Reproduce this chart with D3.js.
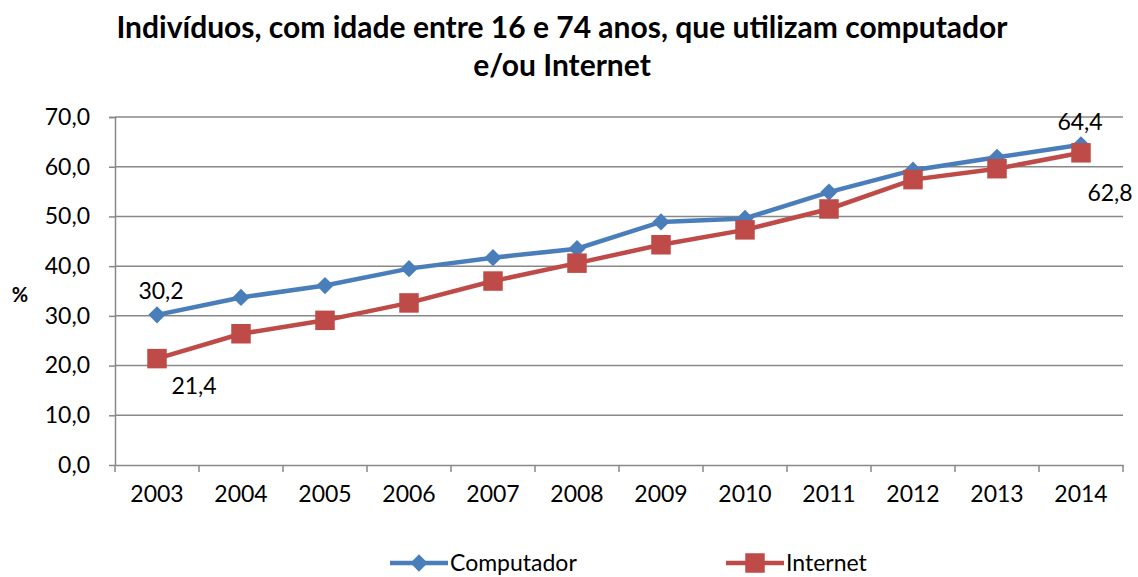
<!DOCTYPE html>
<html>
<head>
<meta charset="utf-8">
<script src="https://cdn.jsdelivr.net/npm/d3@7/dist/d3.min.js"></script>
<style>
  body { margin: 0; background: #fff; }
  text { font-family: Lato, "Open Sans", sans-serif; fill: #000; }
</style>
</head>
<body>
<div id="vis"></div>
<script>
// Chart data
var years = ['2003', '2004', '2005', '2006', '2007', '2008', '2009', '2010', '2011', '2012', '2013', '2014'];
var computador = [30.2, 33.7, 36.1, 39.5, 41.7, 43.5, 48.9, 49.6, 54.9, 59.3, 61.9, 64.4];
var internet = [21.4, 26.4, 29.1, 32.6, 37.0, 40.6, 44.3, 47.3, 51.5, 57.4, 59.6, 62.8];
var yTicks = [0, 10, 20, 30, 40, 50, 60, 70];

var width = 1138;
var height = 577;
var margin = { left: 115, right: 15, top: 117, bottom: 112 };
var drawWidth = width - margin.left - margin.right;
var drawHeight = height - margin.top - margin.bottom;

var blue = '#4a7ebb';
var red = '#be4b48';
var grid = '#888888';
var fontSize = '23px';

var fmt = function(v) { return d3.format('.1f')(v).replace('.', ','); };

var svg = d3.select('#vis').append('svg')
    .attr('width', width)
    .attr('height', height);

// Title
var title = svg.append('text')
    .attr('text-anchor', 'middle')
    .style('font-size', '30px')
    .style('font-weight', 'bold');
title.append('tspan').attr('x', 562).attr('y', 38).text('Indivíduos, com idade entre 16 e 74 anos, que utilizam computador');
title.append('tspan').attr('x', 562).attr('y', 76).text('e/ou Internet');

var g = svg.append('g')
    .attr('transform', 'translate(' + margin.left + ',' + margin.top + ')');

// Scales
var xScale = d3.scaleBand().domain(years).range([0, drawWidth]);
var yScale = d3.scaleLinear().domain([0, 70]).range([drawHeight, 0]);

// Gridlines
g.selectAll('.grid').data(yTicks.slice(1)).enter().append('line')
    .attr('x1', 0).attr('x2', drawWidth)
    .attr('y1', function(d) { return yScale(d); })
    .attr('y2', function(d) { return yScale(d); })
    .attr('stroke', grid)
    .attr('stroke-width', 1.5);

// Y axis
var yAxis = d3.axisLeft(yScale).tickValues(yTicks).tickSize(6).tickPadding(19).tickFormat(fmt);
var yAxisG = g.append('g').call(yAxis);
yAxisG.select('.domain').attr('stroke', grid).attr('stroke-width', 1.5).attr('d', 'M-6,0.5H0.5V' + drawHeight);
yAxisG.selectAll('.tick line').attr('stroke', grid).attr('stroke-width', 1.5);
yAxisG.selectAll('.tick text').style('font-size', fontSize).style('font-family', 'Lato, sans-serif').attr('fill', '#000');

// X axis
var xAxis = d3.axisBottom(xScale).tickSize(0).tickPadding(21);
var xAxisG = g.append('g').attr('transform', 'translate(0,' + drawHeight + ')').call(xAxis);
xAxisG.select('.domain').attr('stroke', grid).attr('stroke-width', 1.5);
xAxisG.selectAll('.tick text').style('font-size', fontSize).style('font-family', 'Lato, sans-serif').attr('fill', '#000');
// Tick marks at band boundaries
g.selectAll('.xtick').data(years.concat(['end'])).enter().append('line')
    .attr('x1', function(d, i) { return i * xScale.step(); })
    .attr('x2', function(d, i) { return i * xScale.step(); })
    .attr('y1', drawHeight).attr('y2', drawHeight + 7)
    .attr('stroke', grid).attr('stroke-width', 1.5);

// Y label
svg.append('text')
    .attr('x', 20).attr('y', 302)
    .attr('text-anchor', 'middle')
    .style('font-size', '20px').style('font-weight', 'bold')
    .text('%');

var cx = function(i) { return xScale(years[i]) + xScale.bandwidth() / 2; };
var line = d3.line()
    .x(function(d, i) { return cx(i); })
    .y(function(d) { return yScale(d); });

var diamond = d3.symbol().type(d3.symbolDiamond2).size(190);
var square = d3.symbol().type(d3.symbolSquare).size(380);

// Computador
g.append('path').datum(computador)
    .attr('d', line).attr('fill', 'none')
    .attr('stroke', blue).attr('stroke-width', 4.5);
g.selectAll('.dm').data(computador).enter().append('path')
    .attr('d', diamond)
    .attr('transform', function(d, i) { return 'translate(' + cx(i) + ',' + yScale(d) + ')'; })
    .attr('fill', blue);

// Internet
g.append('path').datum(internet)
    .attr('d', line).attr('fill', 'none')
    .attr('stroke', red).attr('stroke-width', 4.5);
g.selectAll('.sq').data(internet).enter().append('path')
    .attr('d', square)
    .attr('transform', function(d, i) { return 'translate(' + cx(i) + ',' + yScale(d) + ')'; })
    .attr('fill', red);

// Data labels (first and last points)
var label = function(v, i, dx, dy) {
    g.append('text')
        .attr('x', cx(i) + dx).attr('y', yScale(v) + dy)
        .attr('text-anchor', 'middle')
        .style('font-size', fontSize)
        .text(fmt(v));
};
label(computador[0], 0, 4, -16);
label(internet[0], 0, 37, 35);
label(computador[11], 11, -1, -15);
label(internet[11], 11, 29, 48);

// Legend
var legend = svg.append('g');
var items = [
    { name: 'Computador', color: blue, sym: diamond, x: 390 },
    { name: 'Internet', color: red, sym: square, x: 726 }
];
items.forEach(function(it) {
    legend.append('line')
        .attr('x1', it.x).attr('x2', it.x + 58)
        .attr('y1', 563).attr('y2', 563)
        .attr('stroke', it.color).attr('stroke-width', 4.5);
    legend.append('path')
        .attr('d', it.sym)
        .attr('transform', 'translate(' + (it.x + 29) + ',563)')
        .attr('fill', it.color);
    legend.append('text')
        .attr('x', it.x + 60).attr('y', 571)
        .style('font-size', fontSize)
        .text(it.name);
});
</script>
</body>
</html>
